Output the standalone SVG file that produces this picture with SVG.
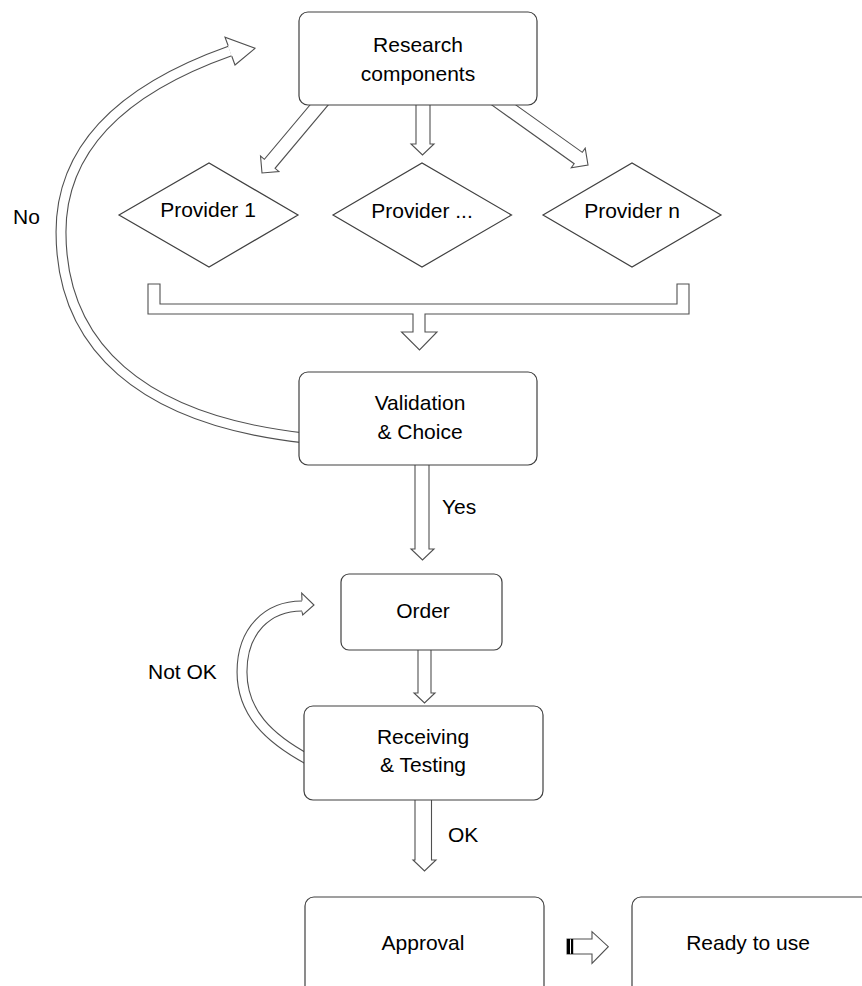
<svg xmlns="http://www.w3.org/2000/svg" width="862" height="986" viewBox="0 0 862 986">
<style>
.box{fill:#fff;stroke:#404040;stroke-width:1.2}
.arr{fill:#fff;stroke:#505050;stroke-width:1.1;stroke-linejoin:miter}
.t{font-family:"Liberation Sans",Arial,sans-serif;font-size:21px;fill:#000;text-anchor:middle}
.l{font-family:"Liberation Sans",Arial,sans-serif;font-size:21px;fill:#000}
.outer{fill:none;stroke:#505050;stroke-width:11}
.inner{fill:none;stroke:#fff;stroke-width:8.8}
</style>
<defs>
<polygon id="diag" points="-115,-7 -12,-7 -12,-12 0,0 -12,12 -12,7 -115,7"/>
</defs>
<rect width="862" height="986" fill="#fff"/>
<g id="connectors">
  <!-- Research -> providers -->
  <use href="#diag" class="arr" transform="translate(262,173) rotate(130)"/>
  <polygon class="arr" points="416,100 430,100 430,144 434,144 422.5,155 411,144 416,144"/>
  <use href="#diag" class="arr" transform="translate(588,165) rotate(35.5)"/>
  <!-- bracket merge -->
  <polygon class="arr" points="148,284 160,284 160,304 677,304 677,284 689,284 689,314 425,314 425,332 437,332 419.5,350 401.5,332 413,332 413,314 148,314"/>
  <!-- No loop -->
  <path class="outer" d="M305,438 C140,420 61,345 61,232 C61,150 120,90 230,51"/>
  <path class="inner" d="M305,438 C140,420 61,345 61,232 C61,150 120,90 230,51"/>
  <path class="arr" d="M228.2,45.8 L225,37.3 L255,48.3 L235,65 L231.8,56.2"/>
  <text class="l" x="13" y="224">No</text>
  <!-- Yes -->
  <polygon class="arr" points="415,460 429,460 429,549 434,549 422.5,560 411,549 415,549"/>
  <text class="l" x="442" y="514">Yes</text>
  <!-- Order -> Receiving -->
  <polygon class="arr" points="418,645 431,645 431,693 435,693 424.5,703 414,693 418,693"/>
  <!-- Not OK loop -->
  <path class="outer" d="M309,760 C268,738 242,712 242,672 C242,630 268,606 302,606"/>
  <path class="inner" d="M309,760 C268,738 242,712 242,672 C242,630 268,606 302,606"/>
  <path class="arr" d="M302,600.5 L301.7,593 L314,605 L302.7,615 L302,611.5"/>
  <text class="l" x="148" y="679">Not OK</text>
  <!-- OK -->
  <polygon class="arr" points="415,795 431.5,795 431.5,860 436,860 424.5,871 413,860 415,860"/>
  <text class="l" x="448" y="842">OK</text>
  <!-- Approval -> Ready -->
  <polygon class="arr" points="567,939 592,939 592,931.7 608.3,946.7 592,963.3 592,954 567,954"/>
  <rect x="567" y="939" width="3" height="15" fill="#000"/>
  <rect x="571" y="939" width="2.2" height="15" fill="#000"/>
</g>
<g id="research">
  <rect class="box" x="299" y="12" width="238" height="93" rx="9"/>
  <text class="t" x="418" y="51.5">Research</text>
  <text class="t" x="418" y="80.5">components</text>
</g>
<g id="provider1">
  <polygon class="box" points="119,215 209,163 298,215 209,267"/>
  <text class="t" x="208" y="217">Provider 1</text>
</g>
<g id="provider-dots">
  <polygon class="box" points="333,215 422,163 511.5,215 422,267"/>
  <text class="t" x="422" y="218">Provider ...</text>
</g>
<g id="provider-n">
  <polygon class="box" points="543,215 632,163 721,215 632,267"/>
  <text class="t" x="632" y="218">Provider n</text>
</g>
<g id="validation">
  <rect class="box" x="299" y="372" width="238" height="93" rx="9"/>
  <text class="t" x="420" y="409.5">Validation</text>
  <text class="t" x="420" y="439">&amp; Choice</text>
</g>
<g id="order">
  <rect class="box" x="341" y="574" width="161" height="76" rx="8"/>
  <text class="t" x="423" y="618">Order</text>
</g>
<g id="receiving">
  <rect class="box" x="304" y="706" width="239" height="94" rx="9"/>
  <text class="t" x="423" y="743.5">Receiving</text>
  <text class="t" x="423" y="772">&amp; Testing</text>
</g>
<g id="approval">
  <rect class="box" x="305" y="897" width="239" height="110" rx="9"/>
  <text class="t" x="423" y="950">Approval</text>
</g>
<g id="ready">
  <rect class="box" x="632" y="897" width="250" height="110" rx="9"/>
  <text class="t" x="748" y="950">Ready to use</text>
</g>
</svg>
